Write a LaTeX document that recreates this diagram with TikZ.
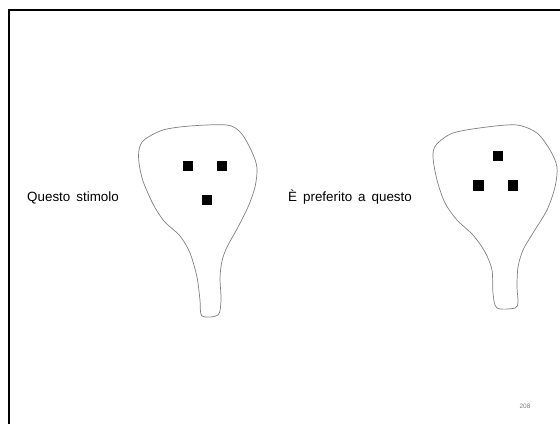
\documentclass[tikz,border=0pt]{standalone}
\usepackage{fontspec}
\setmainfont{Liberation Sans}[WordSpace=1.6]
\begin{document}
\begin{tikzpicture}[x=1pt,y=-1pt,
  frameline/.style={line width=2.4pt,black},
  bulb/.style={draw=black!50,line width=0.7pt},
  dot/.style={fill=black},
  caption/.style={anchor=base west,inner sep=0pt,font=\fontsize{13.4}{16}\selectfont}]
\useasboundingbox (0,0) rectangle (560,424);
% slide frame: left and top edges only
\draw[frameline] (8.7,424) -- (8.7,10.2) -- (560,10.2);

% left stimulus outline
\draw[bulb] plot[smooth cycle,tension=0.5] coordinates {
  (139,150) (144,140) (163,130) (190,126) (227,125) (241,133) (252,152)
  (257,168) (255,187) (248,207) (237,229) (227,247) (222,261) (220,278)
  (221,300) (218,315) (202,316) (200,300) (197,277) (190,253) (180,236)
  (164,221) (153,204) (143,181) (139,163)};
\fill[dot] (183,161) rectangle (193,171);
\fill[dot] (217,161) rectangle (227,171);
\fill[dot] (202,195) rectangle (212,205);

% right stimulus outline
\draw[bulb] plot[smooth cycle,tension=0.5] coordinates {
  (433,157) (436,145) (453,133) (487,127) (517,125) (537,133) (550,150)
  (557,167) (555,187) (547,210) (533,233) (523,250) (518,267) (517,287)
  (518,302) (515,308) (497,308) (493,293) (492,270) (485,252) (473,235)
  (457,220) (445,203) (437,180)};
\fill[dot] (493,151) rectangle (503,161);
\fill[dot] (473,180) rectangle (484,191);
\fill[dot] (508,180) rectangle (518,191);

% captions
\node[caption] (left) at (27,201) {Questo stimolo};
\node[caption] (right) at (288,201) {È preferito a questo};

% page number
\node[font=\fontsize{6.5}{8}\selectfont,text=black!50,inner sep=0pt] (page) at (525,406.5) {208};
\end{tikzpicture}
\end{document}
